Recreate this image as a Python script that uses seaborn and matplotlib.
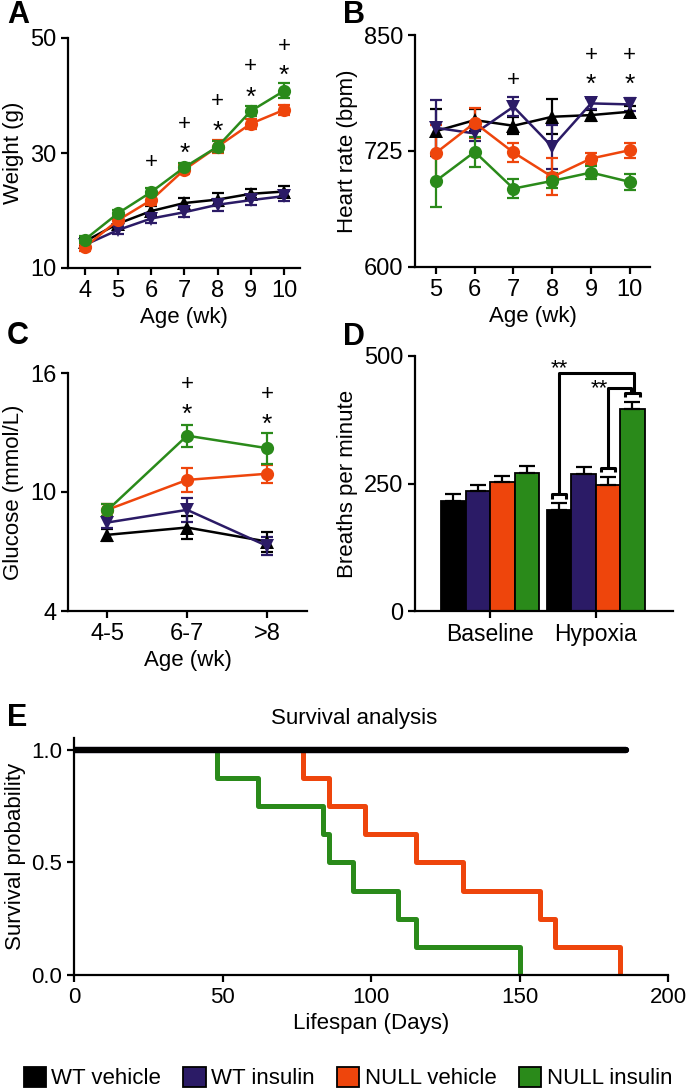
import numpy as np
import pandas as pd
import matplotlib
matplotlib.use("Agg")
import matplotlib.pyplot as plt
import seaborn as sns
from matplotlib.patches import Patch

# ---------------- data ----------------
groups = ["WT vehicle", "WT insulin", "NULL vehicle", "NULL insulin"]

# Panel A: body weight (g)
a_age = [4, 5, 6, 7, 8, 9, 10]
a_wt_veh = [14.6, 17.7, 19.9, 21.3, 21.9, 22.9, 23.3]
a_wt_veh_sem = [0.7, 0.6, 0.8, 0.9, 1.1, 0.8, 1.0]
a_wt_ins = [14.0, 16.6, 18.6, 19.7, 21.0, 21.8, 22.5]
a_wt_ins_sem = [0.6, 0.6, 0.7, 0.9, 1.0, 0.9, 0.9]
a_null_veh = [13.6, 18.3, 21.8, 27.1, 31.1, 35.1, 37.5]
a_null_veh_sem = [0.6, 0.7, 0.8, 0.8, 1.1, 0.9, 0.9]
a_null_ins = [14.9, 19.5, 23.2, 27.5, 31.1, 37.3, 40.8]
a_null_ins_sem = [0.6, 0.6, 0.7, 0.8, 1.0, 0.9, 1.3]
a_star_x = [7, 8, 9, 10]
a_star_y = [31.1, 35.0, 41.0, 44.7]
a_plus_x = [6, 7, 8, 9, 10]
a_plus_y = [28.3, 35.0, 38.9, 45.0, 48.6]

# Panel B: heart rate (bpm)
b_age = [5, 6, 7, 8, 9, 10]
b_wt_veh = [746.4, 758.3, 752.2, 761.9, 763.7, 767.3]
b_wt_veh_sem = [24, 12, 9, 19, 6, 6]
b_wt_ins = [750.0, 743.9, 772.7, 729.5, 776.3, 775.2]
b_wt_ins_sem = [30, 8, 10, 24, 6, 7]
b_null_veh = [723.0, 755.4, 723.4, 697.1, 716.9, 725.9]
b_null_veh_sem = [30, 16, 10, 20, 6, 8]
b_null_ins = [692.8, 724.1, 684.5, 692.8, 701.8, 691.7]
b_null_ins_sem = [28, 16, 10, 8, 7, 9]
b_star_x = [9, 10]
b_star_y = [804.3, 804.3]
b_plus_x = [7, 9, 10]
b_plus_y = [801.4, 828.4, 828.4]

# Panel C: glucose (mmol/L)
c_age = ["4-5", "6-7", ">8"]
c_wt_veh = [7.84, 8.21, 7.50]
c_wt_veh_sem = [0.3, 0.6, 0.5]
c_wt_ins = [8.46, 9.10, 7.28]
c_wt_ins_sem = [0.3, 0.6, 0.45]
c_null_veh = [9.10, 10.61, 10.92]
c_null_veh_sem = [0.3, 0.6, 0.45]
c_null_ins = [9.07, 12.84, 12.21]
c_null_ins_sem = [0.3, 0.56, 0.78]
c_star_x = ["6-7", ">8"]
c_star_y = [14.28, 13.76]
c_plus_x = ["6-7", ">8"]
c_plus_y = [15.41, 14.90]

# Panel D: breaths per minute
d_cond = ["Baseline", "Hypoxia"]
d_wt_veh = [216, 198]
d_wt_veh_sem = [13, 13]
d_wt_ins = [235, 268]
d_wt_ins_sem = [12, 14]
d_null_veh = [252, 247]
d_null_veh_sem = [13, 16]
d_null_ins = [270, 396]
d_null_ins_sem = [14, 14]

# Panel E: survival (days at death; WT groups all alive to end of follow-up)
e_wt_followup = [0, 186]
e_wt_surv = [1.0, 1.0]
e_null_veh_death = [77, 86, 98, 115, 131, 157, 162, 184]
e_null_ins_death = [48, 62, 84, 86, 94, 109, 115, 150]

# ---------------- style ----------------
colors = {"WT vehicle": "#000000", "WT insulin": "#2b1b66",
          "NULL vehicle": "#ee450c", "NULL insulin": "#2a8a1a"}
markers = {"WT vehicle": "^", "WT insulin": "v",
           "NULL vehicle": "o", "NULL insulin": "o"}

sns.set_theme(style="ticks")
plt.rcParams["font.family"] = ["Liberation Sans", "DejaVu Sans"]
plt.rcParams["axes.linewidth"] = 1.6
plt.rcParams["xtick.major.width"] = 1.6
plt.rcParams["ytick.major.width"] = 1.6
plt.rcParams["xtick.major.size"] = 5
plt.rcParams["ytick.major.size"] = 5
plt.rcParams["xtick.labelsize"] = 17
plt.rcParams["ytick.labelsize"] = 17
plt.rcParams["axes.labelsize"] = 16
plt.rcParams["xtick.color"] = "black"
plt.rcParams["ytick.color"] = "black"
plt.rcParams["axes.edgecolor"] = "black"
plt.rcParams["text.color"] = "black"
plt.rcParams["axes.labelcolor"] = "black"

W, H = 686, 1092
fig = plt.figure(figsize=(W / 100, H / 100), dpi=100)


def rect(l, t, r, b):
    return [l / W, 1 - b / H, (r - l) / W, (b - t) / H]


def long_df(x, series):
    rows = []
    for g, vals in zip(groups, series):
        for xi, v in zip(x, vals):
            rows.append({"x": xi, "value": v, "group": g})
    return pd.DataFrame(rows)


def line_panel(ax, x, series, sems, xpos=None):
    df = long_df(x if xpos is None else xpos, series)
    xs = x if xpos is None else xpos
    for g, vals, err in zip(groups, series, sems):
        ax.errorbar(xs, vals, yerr=err, fmt="none", ecolor=colors[g],
                    elinewidth=1.6, capsize=4.5, capthick=1.6, zorder=1.8)
    sns.lineplot(data=df, x="x", y="value", hue="group", style="group",
                 hue_order=groups, style_order=groups, palette=colors,
                 markers=markers, dashes=False, markersize=9.5,
                 markeredgewidth=0, linewidth=1.8, errorbar=None,
                 legend=False, ax=ax)


def sig(ax, xs, ys, glyph, dy, size):
    for xi, yi in zip(xs, ys):
        ax.annotate(glyph, (xi, yi), xytext=(0, dy), textcoords="offset points",
                    ha="center", va="center", fontsize=size)


def finish(ax):
    sns.despine(ax=ax)
    ax.tick_params(direction="out", colors="black")


# ---- Panel A ----
axA = fig.add_axes(rect(68, 38, 300, 268))
line_panel(axA, a_age, [a_wt_veh, a_wt_ins, a_null_veh, a_null_ins],
           [a_wt_veh_sem, a_wt_ins_sem, a_null_veh_sem, a_null_ins_sem])
axA.set_xlim(3.5, 10.48)
axA.set_ylim(10, 50)
axA.set_xticks(a_age)
axA.set_yticks([10, 30, 50])
axA.set_xlabel("Age (wk)")
axA.set_ylabel("Weight (g)")
sig(axA, a_star_x, a_star_y, "*", -5.5, 19)
sig(axA, a_plus_x, a_plus_y, "+", 0, 16)
finish(axA)

# ---- Panel B ----
axB = fig.add_axes(rect(415, 35, 650, 267))
line_panel(axB, b_age, [b_wt_veh, b_wt_ins, b_null_veh, b_null_ins],
           [b_wt_veh_sem, b_wt_ins_sem, b_null_veh_sem, b_null_ins_sem])
axB.set_xlim(4.46, 10.52)
axB.set_ylim(600, 850)
axB.set_xticks(b_age)
axB.set_yticks([600, 725, 850])
axB.set_xlabel("Age (wk)")
axB.set_ylabel("Heart rate (bpm)")
sig(axB, b_star_x, b_star_y, "*", -5.5, 19)
sig(axB, b_plus_x, b_plus_y, "+", 0, 16)
finish(axB)

# ---- Panel C ----
axC = fig.add_axes(rect(68, 373, 307, 611))
c_pos = list(range(len(c_age)))
line_panel(axC, c_age, [c_wt_veh, c_wt_ins, c_null_veh, c_null_ins],
           [c_wt_veh_sem, c_wt_ins_sem, c_null_veh_sem, c_null_ins_sem],
           xpos=c_pos)
axC.set_xlim(-0.49, 2.5)
axC.set_ylim(4, 16)
axC.set_xticks(c_pos)
axC.set_xticklabels(c_age)
axC.set_yticks([4, 10, 16])
axC.set_xlabel("Age (wk)")
axC.set_ylabel("Glucose (mmol/L)")
sig(axC, [c_age.index(v) for v in c_star_x], c_star_y, "*", -5.5, 19)
sig(axC, [c_age.index(v) for v in c_plus_x], c_plus_y, "+", 0, 16)
finish(axC)

# ---- Panel D ----
axD = fig.add_axes(rect(415, 356, 673, 611))
d_series = [d_wt_veh, d_wt_ins, d_null_veh, d_null_ins]
d_sems = [d_wt_veh_sem, d_wt_ins_sem, d_null_veh_sem, d_null_ins_sem]
dfD = long_df(d_cond, d_series)
sns.barplot(data=dfD, x="x", y="value", hue="group", hue_order=groups,
            order=d_cond, palette=colors, width=0.925, edgecolor="black",
            linewidth=1.3, errorbar=None, legend=False, saturation=1, ax=axD)
centers = {}
for g, cont, err in zip(groups, axD.containers, d_sems):
    xs = [b.get_x() + b.get_width() / 2 for b in cont]
    ys = [b.get_height() for b in cont]
    centers[g] = (xs, ys, [b.get_width() for b in cont])
    axD.errorbar(xs, ys, yerr=[np.zeros(len(err)), err], fmt="none",
                 ecolor="black", elinewidth=1.6, capsize=6, capthick=1.6,
                 zorder=3)
axD.set_xlim(-0.71, 1.73)
axD.set_ylim(0, 500)
axD.set_yticks([0, 250, 500])
axD.set_xlabel("")
axD.set_ylabel("Breaths per minute")
finish(axD)
axD.tick_params(axis="x", labelsize=16.5)

# significance brackets (Hypoxia group)
hi = d_cond.index("Hypoxia")


def bracket_foot(name, sem_list):
    xs, ys, ws = centers[name]
    x = xs[hi]
    top = ys[hi] + sem_list[hi] + 18
    hw = ws[hi] * 0.3
    axD.plot([x - hw, x - hw, x + hw, x + hw], [top - 9, top, top, top - 9],
             color="black", lw=2.2, solid_capstyle="butt", zorder=4,
             clip_on=False)
    return x, top


xb, yb = bracket_foot("WT vehicle", d_wt_veh_sem)
xo, yo = bracket_foot("NULL vehicle", d_null_veh_sem)
xg, yg = bracket_foot("NULL insulin", d_null_ins_sem)
g_top = d_null_ins[hi] + d_null_ins_sem[hi]
big = g_top + 56
small = g_top + 27
axD.plot([xb, xb, xg + 0.012, xg + 0.012], [yb, big, big, yg], color="black",
         lw=2.2, zorder=4, clip_on=False)
axD.plot([xo, xo, xg - 0.012, xg - 0.012], [yo, small, small, yg],
         color="black", lw=2.2, zorder=4, clip_on=False)
axD.text(xb, big - 1, "**", ha="center", va="baseline", fontsize=16)
axD.text(xo - 0.005, small - 12, "**", ha="right", va="baseline", fontsize=16)

# ---- Panel E ----
axE = fig.add_axes(rect(74, 738, 668, 975))
dfE = pd.DataFrame({
    "days": e_null_veh_death + e_null_ins_death,
    "group": ["NULL vehicle"] * len(e_null_veh_death)
    + ["NULL insulin"] * len(e_null_ins_death),
})
sns.ecdfplot(data=dfE, x="days", hue="group",
             hue_order=["NULL vehicle", "NULL insulin"],
             palette=colors, complementary=True, linewidth=3.6,
             legend=False, ax=axE)
dfW = pd.DataFrame({"days": e_wt_followup * 2, "surv": e_wt_surv * 2,
                    "group": ["WT insulin"] * 2 + ["WT vehicle"] * 2})
sns.lineplot(data=dfW, x="days", y="surv", hue="group",
             hue_order=["WT insulin", "WT vehicle"], palette=colors,
             linewidth=4.5, legend=False, ax=axE, errorbar=None,
             solid_capstyle="round")
axE.set_xlim(0, 200)
axE.set_ylim(0, 1.053)
axE.set_xticks([0, 50, 100, 150, 200])
axE.set_yticks([0, 0.5, 1.0])
axE.set_yticklabels(["0.0", "0.5", "1.0"])
axE.tick_params(labelsize=16)
axE.set_xlabel("Lifespan (Days)", fontsize=16)
axE.set_ylabel("Survival probability", fontsize=16)
axE.set_title("Survival analysis", fontsize=16, x=(354 - 74) / 594, pad=10)
finish(axE)

# ---- panel letters ----
for letter, (px, py) in zip("ABCDE", [(7, 15), (343, 15), (7, 336), (343, 337), (7, 718)]):
    fig.text(px / W, 1 - py / H, letter, fontsize=22, fontweight="bold",
             ha="left", va="center")

# ---- legend ----
handles = [Patch(facecolor=colors[g], edgecolor="black", linewidth=1.3, label=g)
           for g in groups]
fig.legend(handles=handles, loc="center", bbox_to_anchor=(0.507, 1 - 1078 / H),
           ncol=4, frameon=False, fontsize=16, handlelength=1.0,
           handleheight=1.0, handletextpad=0.25, columnspacing=1.0,
           borderaxespad=0, borderpad=0)

fig.savefig("out.png", dpi=100)
